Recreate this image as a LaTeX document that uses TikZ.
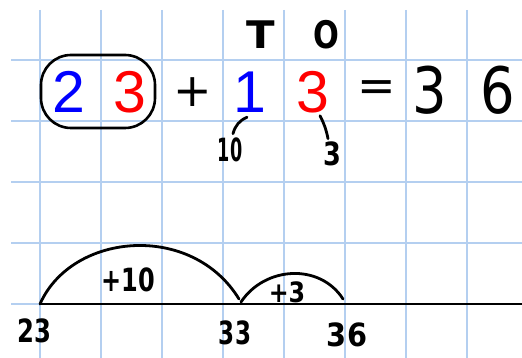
\documentclass[tikz,border=0pt]{standalone}
\usepackage{fontspec}
\setmainfont{Liberation Sans}
\newfontfamily\hand{DejaVu Sans}
\usetikzlibrary{positioning}
\definecolor{gridblue}{RGB}{180,207,240}
\definecolor{digblue}{RGB}{0,0,255}
\definecolor{digred}{RGB}{255,0,0}
\newcommand\squeeze[2]{\scalebox{#1}[1]{#2}}

\begin{document}
\begin{tikzpicture}[
    x=1pt,y=-1pt,
    grid/.style={draw=gridblue,line width=1.5pt},
    digit/.style={font=\fontsize{59}{59}\selectfont,inner sep=0pt,anchor=base},
    inkdigit/.style={font=\hand\fontsize{64}{64}\selectfont,inner sep=0pt,anchor=base},
    sign/.style={font=\hand\fontsize{46}{46}\selectfont,inner sep=0pt},
    note/.style={font=\hand\bfseries\fontsize{32}{32}\selectfont,inner sep=0pt},
    ink/.style={line width=2.8pt,line cap=round,line join=round},
    ring/.style={draw,line width=2.6pt,rounded corners=30pt,
                 minimum width=114pt,minimum height=73pt}
  ]
  \useasboundingbox (0,0) rectangle (522,358);

  % squared paper
  \foreach \x in {40,101,...,467}
    \draw[grid] (\x,10) -- (\x,358);
  \foreach \y in {60,121,...,304}
    \draw[grid] (11,\y) -- (522,\y);

  % the sum
  \node[digit,text=digblue] (tensA) at (69,113) {2};
  \node[digit,text=digred] (onesA) at (130,113) {3};
  \node[ring] (circ) at (98,91.5) {};
  \node[sign] (plus) at (193,92) {+};
  \node[digit,text=digblue] (tensB) at (250,113) {1};
  \node[digit,text=digred] (onesB) at (313,113) {3};
  \node[sign] (equals) at (377,91) {=};
  \node[inkdigit] (tensC) at (430,114) {\squeeze{0.85}{3}};
  \node[inkdigit] (onesC) at (498,114) {\squeeze{0.85}{6}};

  % place value headings
  \node[note,font=\hand\bfseries\fontsize{38}{38}\selectfont] (headT) at (261,35) {\squeeze{1.1}{T}};
  \node[note,font=\hand\bfseries\fontsize{38}{38}\selectfont] (headO) at (326,35) {\squeeze{0.8}{O}};

  % partition of 13
  \node[note] (partT) at (230,150) {\squeeze{0.55}{10}};
  \node[note] (partO) at (332,154) {\squeeze{0.8}{3}};
  \draw[ink] ([shift={(-3,4)}]tensB.south) to[bend right=25] ([shift={(3,-4)}]partT.north);
  \draw[ink] ([shift={(7,2)}]onesB.south) to[bend left=8] ([shift={(-4,-3)}]partO.north);

  % number line
  \coordinate (n23) at (40,304);
  \coordinate (n33) at (240,304);
  \coordinate (n36) at (345,304);
  \coordinate (lineEnd) at (522,304);
  \draw[ink,line cap=butt] (n23) -- (lineEnd);
  \draw[ink] (n23) .. controls (72,232) and (192,222) .. ([shift={(-1,-5)}]n33);
  \draw[ink] ([shift={(1,-2)}]n33) .. controls (265,266) and (320,263) .. ([shift={(-2,-5)}]n36);
  \node[note] (jumpA) at (128,280) {\squeeze{0.75}{+10}};
  \node[note,font=\hand\bfseries\fontsize{28}{28}\selectfont] (jumpB) at (287,292) {\squeeze{0.85}{+3}};
  \node[note] (lab23) at (34,331) {\squeeze{0.76}{23}};
  \node[note] (lab33) at (235,333) {\squeeze{0.72}{33}};
  \node[note] (lab36) at (347,335) {\squeeze{0.9}{36}};
\end{tikzpicture}
\end{document}
